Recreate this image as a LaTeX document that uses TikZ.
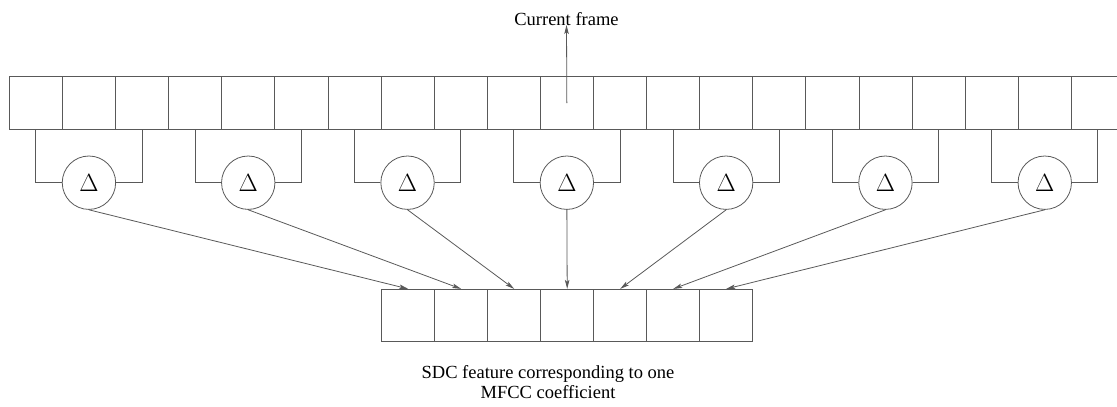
\documentclass[tikz,border=0pt]{standalone}
\usepackage{fontspec}
\setmainfont{Liberation Serif}
\usepackage{tikz}
\usetikzlibrary{arrows.meta}

\begin{document}
\begin{tikzpicture}[x=1pt, y=-1pt, draw=black!65, line width=0.8pt]
      \tikzstyle{arrow} = [-{Stealth[length=9pt, width=4.5pt, inset=2pt]}]
      \tikzstyle{cell} = [rectangle, draw=black!65, minimum width=53.1pt, minimum height=53pt, inner sep=0pt]
      \tikzstyle{delta} = [circle, draw=black!65, minimum size=53.4pt, inner sep=0pt, font=\fontsize{30}{30}\selectfont]
      \tikzstyle{label} = [font=\fontsize{18.5}{20}\selectfont, inner sep=0pt]

      \useasboundingbox (0,0) rectangle (1117,407);

      % frames of the input
      \foreach \i in {0, ..., 20}
      {
        \path[] node[cell] (T-\i) at ({35.85+53.1*\i}, 103) {};
      }

      % difference operators
      \foreach \k/\a/\b/\c in {0/0/1/2, 1/3/4/5, 2/6/7/8, 3/9/10/11, 4/12/13/14, 5/15/16/17, 6/18/19/20}
      {
        \path (T-\b) ++(0, 79.7) node[delta] (D-\k) {$\Delta$};
        \draw (T-\a.south) |- (D-\k.west);
        \draw (T-\c.south) |- (D-\k.east);
      }

      % SDC feature
      \foreach \j in {0, ..., 6}
      {
        \path[] node[cell, minimum width=53pt, minimum height=52.4pt] (B-\j) at ({408.2+53*\j}, 315.5) {};
        \draw [arrow] (D-\j.south) -- (B-\j.north);
      }

      \node[label, anchor=base] (title) at (566.5, 25) {Current frame};
      \draw [arrow] (T-10.center) -- (title.base);

      \node[label, anchor=base, align=center] (caption) at (548, 398) {SDC feature corresponding to one\\[0pt] MFCC coefficient};
\end{tikzpicture}
\end{document}
